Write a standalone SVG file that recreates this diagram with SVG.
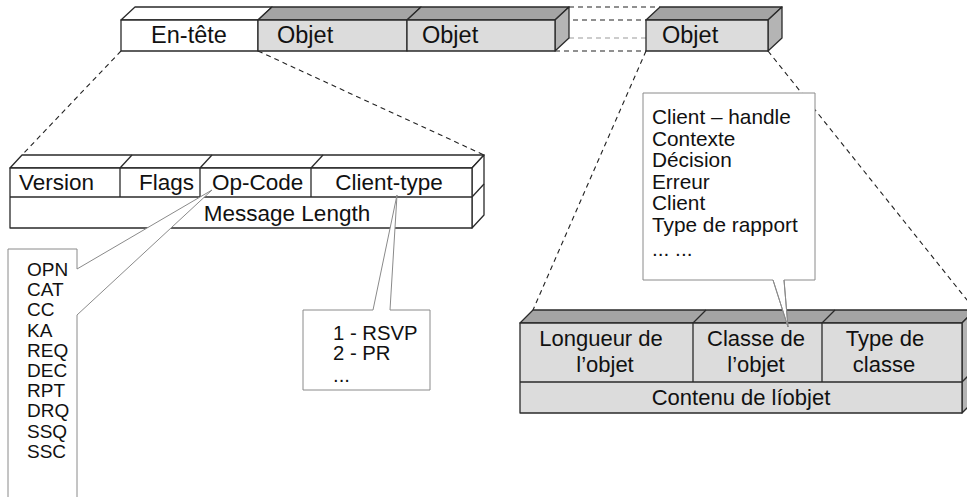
<svg xmlns="http://www.w3.org/2000/svg" width="967" height="497" viewBox="0 0 967 497">
<style>
text{font-family:"Liberation Sans",Arial,sans-serif;fill:#111}
.t23{font-size:23.5px}
.t22{font-size:22.5px}
.t21{font-size:22px}
.t20{font-size:20.3px}
.tc{font-size:20.8px}
.t19{font-size:19px}
.mid{text-anchor:middle}
.end{text-anchor:end}
.edge{stroke:#2a2a2a;stroke-width:1.3;stroke-linejoin:round}
.white{fill:#ffffff}
.front{fill:#dcdcdc}
.top{fill:#a4a4a4}
.side{fill:#b4b4b4}
.dash{fill:none;stroke:#222;stroke-width:1.1;stroke-dasharray:5 4}
.hid{fill:none;stroke:#999;stroke-width:1.1;stroke-dasharray:5 4}
.call{fill:#ffffff;stroke:#8a8a8a;stroke-width:1}
.ptr{fill:none;stroke:#8a8a8a;stroke-width:1}
</style>
<g id="connectors">
<line class="dash" x1="121" y1="51" x2="22" y2="155"/>
<line class="dash" x1="258" y1="51" x2="484" y2="155"/>
<line class="dash" x1="646" y1="51" x2="533" y2="310"/>
<line class="dash" x1="768" y1="51" x2="975" y2="310"/>
<line class="dash" x1="569" y1="7" x2="660" y2="7"/>
<line class="dash" x1="555" y1="20" x2="646" y2="20"/>
<line class="hid" x1="569" y1="38" x2="646" y2="38"/>
<line class="dash" x1="555" y1="51" x2="646" y2="51"/>
</g>
<g id="top-bar">
<g id="entete">
<polygon class="edge white" points="121,20 135,7 272,7 258,20"/>
<rect class="edge white" x="121" y="20" width="137" height="31"/>
<text class="t23 mid" x="189" y="43">En-tête</text>
</g>
<g id="objet1">
<polygon class="edge top" points="258,20 272,7 421,7 407,20"/>
<rect class="edge front" x="258" y="20" width="149" height="31"/>
<text class="t23" x="277" y="43">Objet</text>
</g>
<g id="objet2">
<polygon class="edge top" points="407,20 421,7 569,7 555,20"/>
<polygon class="edge side" points="555,20 569,7 569,38 555,51"/>
<rect class="edge front" x="407" y="20" width="148" height="31"/>
<text class="t23" x="422" y="43">Objet</text>
</g>
<g id="objet3">
<polygon class="edge top" points="646,20 660,7 782,7 768,20"/>
<polygon class="edge side" points="768,20 782,7 782,38 768,51"/>
<rect class="edge front" x="646" y="20" width="122" height="31"/>
<text class="t23" x="662" y="43">Objet</text>
</g>
</g>
<g id="header-detail">
<polygon class="edge white" points="10,168 22,155 484,155 472,168"/>
<polygon class="edge white" points="472,168 484,155 484,215 472,228"/>
<line class="edge" x1="472" y1="197" x2="484" y2="184"/>
<rect class="edge white" x="10" y="168" width="462" height="60"/>
<line class="edge" x1="10" y1="197" x2="472" y2="197"/>
<line class="edge" x1="120" y1="168" x2="120" y2="197"/>
<line class="edge" x1="200" y1="168" x2="200" y2="197"/>
<line class="edge" x1="311" y1="168" x2="311" y2="197"/>
<line class="edge" x1="120" y1="168" x2="132" y2="155"/>
<line class="edge" x1="200" y1="168" x2="212" y2="155"/>
<line class="edge" x1="311" y1="168" x2="323" y2="155"/>
<text class="t22" x="19" y="190">Version</text>
<text class="t22 end" x="194" y="190">Flags</text>
<text class="t22" x="212" y="190">Op-Code</text>
<text class="t22 mid" x="389" y="190">Client-type</text>
<text class="t22 mid" x="287" y="221">Message Length</text>
</g>
<g id="opcode-callout">
<path class="call" d="M8,497 V249 H77 V269 L212,190 L77,315 V497"/>
<text class="t19" x="27" y="276">OPN</text>
<text class="t19" x="27" y="296">CAT</text>
<text class="t19" x="27" y="316">CC</text>
<text class="t19" x="27" y="337">KA</text>
<text class="t19" x="27" y="357">REQ</text>
<text class="t19" x="27" y="377">DEC</text>
<text class="t19" x="27" y="397">RPT</text>
<text class="t19" x="27" y="417">DRQ</text>
<text class="t19" x="27" y="438">SSQ</text>
<text class="t19" x="27" y="458">SSC</text>
</g>
<g id="clienttype-callout">
<path class="call" d="M303,310 H373 L397,195 L390,310 H430 V390 H303 Z"/>
<text class="t20" x="333" y="340">1 - RSVP</text>
<text class="t20" x="333" y="360">2 - PR</text>
<text class="t20" x="333" y="382">...</text>
</g>
<g id="object-detail">
<polygon class="edge top" points="520,323 533,310 975,310 962,323"/>
<polygon class="edge side" points="962,323 975,310 975,400 962,413"/>
<line class="edge" x1="962" y1="382" x2="975" y2="369"/>
<line class="edge" x1="693" y1="323" x2="706" y2="310"/>
<line class="edge" x1="822" y1="323" x2="835" y2="310"/>
<rect class="edge front" x="520" y="323" width="442" height="90"/>
<line class="edge" x1="520" y1="382" x2="962" y2="382"/>
<line class="edge" x1="693" y1="323" x2="693" y2="382"/>
<line class="edge" x1="822" y1="323" x2="822" y2="382"/>
<text class="t21 mid" x="601" y="346">Longueur de</text>
<text class="t21 mid" x="605" y="372">l’objet</text>
<text class="t21 mid" x="756" y="346">Classe de</text>
<text class="t21 mid" x="756" y="372">l’objet</text>
<text class="t21 mid" x="885" y="346">Type de</text>
<text class="t21 mid" x="884" y="372">classe</text>
<text class="t21 mid" x="741" y="405">Contenu de líobjet</text>
</g>
<g id="class-callout">
<path class="call" d="M643,93 H815 V280 H784 L788,327 L773,280 H643 Z"/>
<polyline class="ptr" points="773,280 788,327 784,280"/>
<text class="tc" x="652" y="124">Client – handle</text>
<text class="tc" x="652" y="145.5">Contexte</text>
<text class="tc" x="652" y="167">Décision</text>
<text class="tc" x="652" y="188.5">Erreur</text>
<text class="tc" x="652" y="210">Client</text>
<text class="tc" x="652" y="231.5">Type de rapport</text>
<text class="tc" x="652" y="256">... ...</text>
</g>
</svg>
